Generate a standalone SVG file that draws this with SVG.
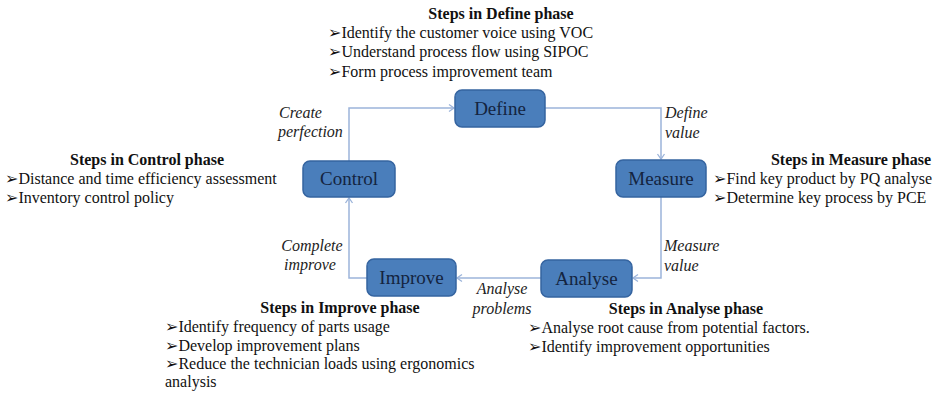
<svg xmlns="http://www.w3.org/2000/svg" width="941" height="393" viewBox="0 0 941 393">
<style>
.box{fill:#4a7ebb;stroke:#3564a0;stroke-width:1.5}
.bl{font-family:"Liberation Serif","Times New Roman",serif;font-size:19px;fill:#14243f;text-anchor:middle}
.h{font-family:"Liberation Serif","Times New Roman",serif;font-size:16px;font-weight:bold;fill:#111;text-anchor:middle}
.t{font-family:"Liberation Serif","Times New Roman",serif;font-size:16px;fill:#111}
.b{font-family:"DejaVu Sans",sans-serif;font-size:16px}
.i{font-family:"Liberation Serif","Times New Roman",serif;font-size:16px;font-style:italic;fill:#222}
.c{fill:none;stroke:#9cb4da;stroke-width:1.5}
</style>
<defs>
<marker id="ar" markerWidth="10" markerHeight="10" refX="8" refY="5" orient="auto" markerUnits="userSpaceOnUse">
<polyline points="3,1.5 8,5 3,8.5" fill="none" stroke="#9cb4da" stroke-width="1.3"/>
</marker>
</defs>
<rect width="941" height="393" fill="#fff"/>
<g id="connectors">
<polyline class="c" points="349,161 349,108 454,108" marker-end="url(#ar)"/>
<polyline class="c" points="545,108 661,108 661,159" marker-end="url(#ar)"/>
<polyline class="c" points="661,197 661,278 633,278" marker-end="url(#ar)"/>
<polyline class="c" points="541,278 457,278" marker-end="url(#ar)"/>
<polyline class="c" points="367,278 349,278 349,198" marker-end="url(#ar)"/>
</g>
<g id="define">
<rect class="box" x="455" y="90" width="90" height="37" rx="7"/>
<text class="bl" x="500" y="115">Define</text>
</g>
<g id="measure">
<rect class="box" x="616" y="160" width="90" height="37" rx="7"/>
<text class="bl" x="661" y="185">Measure</text>
</g>
<g id="analyse">
<rect class="box" x="541" y="260" width="91" height="37" rx="7"/>
<text class="bl" x="586.5" y="285">Analyse</text>
</g>
<g id="improve">
<rect class="box" x="367" y="259" width="89" height="37" rx="7"/>
<text class="bl" x="411.5" y="284">Improve</text>
</g>
<g id="control">
<rect class="box" x="303" y="161" width="92" height="36" rx="7"/>
<text class="bl" x="349" y="185">Control</text>
</g>
<g id="define-steps">
<text class="h" x="501" y="19">Steps in Define phase</text>
<text class="t" x="328" y="38"><tspan class="b">➢</tspan>Identify the customer voice using VOC</text>
<text class="t" x="328" y="57"><tspan class="b">➢</tspan>Understand process flow using SIPOC</text>
<text class="t" x="328" y="77"><tspan class="b">➢</tspan>Form process improvement team</text>
</g>
<g id="control-steps">
<text class="h" x="147" y="165">Steps in Control phase</text>
<text class="t" x="5" y="184"><tspan class="b">➢</tspan>Distance and time efficiency assessment</text>
<text class="t" x="5" y="203"><tspan class="b">➢</tspan>Inventory control policy</text>
</g>
<g id="measure-steps">
<text class="h" x="851" y="165">Steps in Measure phase</text>
<text class="t" x="713" y="184"><tspan class="b">➢</tspan>Find key product by PQ analyse</text>
<text class="t" x="713" y="203"><tspan class="b">➢</tspan>Determine key process by PCE</text>
</g>
<g id="improve-steps">
<text class="h" x="340" y="313">Steps in Improve phase</text>
<text class="t" x="165" y="332"><tspan class="b">➢</tspan>Identify frequency of parts usage</text>
<text class="t" x="165" y="351"><tspan class="b">➢</tspan>Develop improvement plans</text>
<text class="t" x="165" y="369"><tspan class="b">➢</tspan>Reduce the technician loads using ergonomics</text>
<text class="t" x="165" y="387">analysis</text>
</g>
<g id="analyse-steps">
<text class="h" x="686" y="314">Steps in Analyse phase</text>
<text class="t" x="528" y="333"><tspan class="b">➢</tspan>Analyse root cause from potential factors.</text>
<text class="t" x="528" y="352"><tspan class="b">➢</tspan>Identify improvement opportunities</text>
</g>
<g id="edge-labels">
<text class="i" x="279" y="118">Create</text>
<text class="i" x="278" y="137">perfection</text>
<text class="i" x="665" y="118">Define</text>
<text class="i" x="665" y="138">value</text>
<text class="i" x="664" y="251">Measure</text>
<text class="i" x="664" y="271">value</text>
<text class="i" x="502" y="294" text-anchor="middle">Analyse</text>
<text class="i" x="502" y="314" text-anchor="middle">problems</text>
<text class="i" x="312" y="251" text-anchor="middle">Complete</text>
<text class="i" x="310" y="270" text-anchor="middle">improve</text>
</g>
</svg>
